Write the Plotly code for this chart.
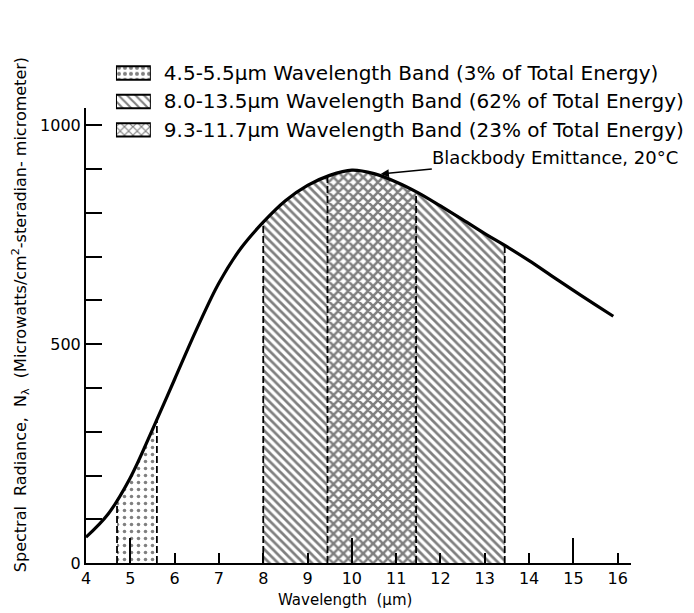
import numpy as np
import plotly.graph_objects as go

# ---- data ----
wavelength = [4.0, 4.5, 5.0, 5.5, 6.0, 6.5, 7.0, 7.5, 8.0, 8.5, 9.0, 9.5, 10.0,
              10.5, 11.0, 11.5, 12.0, 12.5, 13.0, 13.5, 14.0, 14.5, 15.0, 15.5, 15.9]
radiance = [59, 112, 195, 305, 420, 535, 640, 720, 779, 828, 863, 886, 898,
            890, 871, 846, 816, 785, 753, 723, 691, 657, 623, 590, 564]

band_labels = ["4.5-5.5µm Wavelength Band (3% of Total Energy)",
               "8.0-13.5µm Wavelength Band (62% of Total Energy)",
               "9.3-11.7µm Wavelength Band (23% of Total Energy)"]
band_edges = [(4.7, 5.6), (8.0, 13.45), (9.45, 11.45)]   # as drawn
band_patterns = [".", "\\", "x"]

x_ticks = list(range(4, 17))
long_ticks = [5, 10, 15]
y_ticks = [0, 500, 1000]

FONT = "DejaVu Sans"
wl = np.array(wavelength, dtype=float)
rd = np.array(radiance, dtype=float)

pattern_style = {".": dict(size=7, solidity=0.2),
                 "\\": dict(size=6, solidity=0.45),
                 "x": dict(size=7, solidity=0.6)}

fig = go.Figure()

# band fills (draw order: wide hatched, cross-hatched, dotted)
for i in [1, 2, 0]:
    a, b = band_edges[i]
    inside = (wl > a) & (wl < b)
    bx = [a] + list(wl[inside]) + [b]
    by = [float(np.interp(a, wl, rd))] + list(rd[inside]) + [float(np.interp(b, wl, rd))]
    pat = dict(shape=band_patterns[i], fgcolor="black", bgcolor="white",
               **pattern_style[band_patterns[i]])
    fig.add_trace(go.Scatter(x=bx, y=by, mode="lines", fill="tozeroy",
                             fillcolor="white", fillpattern=pat,
                             line=dict(width=0, shape="spline"),
                             showlegend=False, hoverinfo="skip"))

# dashed band edges
for a, b in band_edges:
    for e in (a, b):
        fig.add_trace(go.Scatter(x=[e, e], y=[0, float(np.interp(e, wl, rd))],
                                 mode="lines", line=dict(color="black", width=1.8, dash="7px,3px"),
                                 showlegend=False, hoverinfo="skip"))

# blackbody curve
fig.add_trace(go.Scatter(x=wavelength, y=radiance, mode="lines",
                         line=dict(color="black", width=3.2, shape="spline"),
                         showlegend=False, hoverinfo="skip"))

# tall ticks on overlaid axis
fig.add_trace(go.Scatter(x=long_ticks, y=[0] * len(long_ticks), xaxis="x2", mode="markers",
                         marker=dict(opacity=0), showlegend=False, hoverinfo="skip"))

# legend swatches as bars on their own small axes
fig.add_trace(go.Bar(y=band_labels, x=[1, 1, 1], orientation="h", xaxis="x3", yaxis="y3",
                     width=0.47,
                     marker=dict(color="white", line=dict(color="black", width=2),
                                 pattern=dict(shape=band_patterns, fgcolor="black",
                                              bgcolor="white", size=6, solidity=0.35)),
                     showlegend=False, hoverinfo="skip"))

fig.add_annotation(x=10.65, y=889, xref="x", yref="y", text="Blackbody Emittance, 20°C",
                   showarrow=True, arrowhead=2, arrowsize=1.1, arrowwidth=1.5,
                   arrowcolor="black", ax=174, ay=-17, xanchor="center",
                   font=dict(family=FONT, size=18, color="black"))

fig.add_annotation(text="Spectral  Radiance,  N<sub>λ</sub>  (Microwatts/cm<sup>2</sup>-steradian- micrometer)",
                   xref="paper", yref="paper", x=-0.12, y=0.475, textangle=-90,
                   xanchor="center", yanchor="middle",
                   showarrow=False, font=dict(family=FONT, size=16, color="black"))
fig.add_annotation(text="Wavelength  (µm)", xref="paper", yref="paper",
                   x=0.475, y=-0.071, xanchor="center", yanchor="middle", showarrow=False,
                   font=dict(family=FONT, size=15, color="black"))

fig.update_layout(
    width=686, height=605,
    margin=dict(l=78, r=63, t=32, b=50, autoexpand=False),
    paper_bgcolor="white", plot_bgcolor="white",
    font=dict(family=FONT, size=16, color="black"),
    xaxis=dict(range=[4, 16.3], tickvals=x_ticks, ticks="inside", ticklen=10,
               tickwidth=1.5, tickcolor="black", showline=True, linecolor="black",
               linewidth=2, showgrid=False, zeroline=False, automargin=False,
               tickfont=dict(family=FONT, size=16)),
    xaxis2=dict(overlaying="x", matches="x", anchor="y", side="bottom",
                tickvals=long_ticks, ticks="inside", ticklen=25, tickwidth=1.5,
                tickcolor="black", showticklabels=False, showline=False,
                showgrid=False, zeroline=False, automargin=False),
    yaxis=dict(range=[0, 1040], domain=[0, 0.870], tickvals=y_ticks, ticks="inside",
               ticklen=16, tickwidth=1.8, tickcolor="black", showline=True,
               linecolor="black", linewidth=2, showgrid=False, zeroline=False,
               automargin=False,
               minor=dict(dtick=100, ticks="inside", ticklen=16, tickwidth=1.8,
                          tickcolor="black", showgrid=False),
               tickfont=dict(family=FONT, size=16)),
    xaxis3=dict(domain=[0.055, 0.119], range=[0, 1], anchor="y3", visible=False,
                automargin=False),
    yaxis3=dict(domain=[0.801, 0.964], anchor="x3", side="right", autorange="reversed",
                showline=False, showgrid=False, zeroline=False, ticks="",
                automargin=False,
                ticklabelstandoff=12, tickfont=dict(family=FONT, size=20)),
    bargap=0.5,
)

fig.write_html("out.html")
